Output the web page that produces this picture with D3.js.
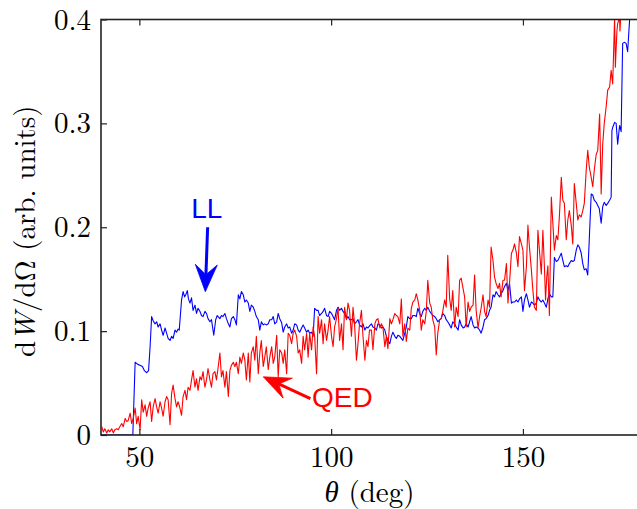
<!DOCTYPE html>
<html>
<head>
<meta charset="utf-8">
<script src="https://cdn.jsdelivr.net/npm/d3@7"></script>
<style>
  html, body { margin: 0; padding: 0; background: #fff; }
  svg { display: block; }
</style>
</head>
<body>
<svg id="chart" width="637" height="509"></svg>
<script>
// ---------------- data ----------------
const xTicks = [50, 100, 150];
const xTickLabels = ["50", "100", "150"];
const yTicks = [0, 0.1, 0.2, 0.3, 0.4];
const yTickLabels = ["0", "0.1", "0.2", "0.3", "0.4"];

const llTheta = [40,48.3,48.9,49.6,50.3,50.8,51.3,51.9,52.4,52.8,53.2,53.6,54.1,54.5,54.9,55.4,55.8,56.2,56.7,57.1,57.5,58.0,58.4,58.8,59.3,59.7,60.1,60.4,61.0,61.4,61.8,62.1,62.5,62.8,63.2,63.6,64.0,64.5,64.9,65.3,65.8,66.2,66.6,67.1,67.5,67.9,68.4,68.8,69.4,69.9,70.3,71.0,71.4,71.8,72.3,72.7,73.2,73.6,74.0,74.5,74.9,75.3,75.8,76.2,76.6,77.1,77.5,77.9,78.4,78.8,79.2,79.7,80.1,80.5,81.0,81.4,81.8,82.3,82.7,83.1,83.6,84.0,84.5,84.9,85.3,85.8,86.2,86.6,87.1,87.5,87.9,88.4,88.8,89.2,89.7,90.1,90.5,91.0,91.4,91.8,92.3,92.7,93.1,93.6,94.0,94.4,94.9,95.3,95.7,96.2,96.6,97.0,97.5,97.9,98.3,98.8,99.2,99.6,100.1,100.5,100.9,101.4,101.8,102.2,102.7,103.1,103.5,104.0,104.4,104.8,105.3,105.7,106.1,106.6,107.0,107.4,107.9,108.3,108.8,109.2,109.6,110.0,110.5,110.9,111.4,111.8,112.2,112.7,113.1,113.5,114.0,114.4,114.8,115.3,115.7,116.1,116.6,117.0,117.4,117.9,118.3,118.7,119.2,119.6,120.0,120.5,120.9,121.3,121.8,122.2,122.6,123.1,123.5,123.9,124.4,124.8,125.2,125.7,126.1,126.5,127.0,127.4,127.8,128.3,128.7,129.1,129.6,130.0,130.4,130.9,131.3,131.7,132.2,132.6,133.1,133.5,133.9,134.4,134.8,135.2,135.7,136.1,136.5,137.0,137.4,137.8,138.3,138.7,139.1,139.6,140.0,140.4,140.9,141.3,141.7,142.2,142.6,143.0,143.5,143.9,144.3,144.8,145.2,145.7,146.1,146.5,147.0,147.4,147.8,148.3,148.7,149.1,149.6,150.0,150.4,150.9,151.3,151.7,152.2,152.6,153.0,153.5,153.9,154.3,154.8,155.2,155.6,156.1,156.5,156.9,157.4,157.8,158.2,158.7,159.1,159.5,160.0,160.4,160.8,161.3,161.7,162.1,162.6,163.0,163.4,163.9,164.3,164.7,165.2,165.6,166.0,166.5,166.9,167.8,168.2,168.6,169.1,169.5,169.9,170.4,170.8,171.2,171.7,172.1,172.6,173.0,173.2,173.4,173.9,174.3,174.7,175.2,175.6,176.0,176.5,176.9,177.3,177.8,178.2,179.0];
const llValue = [0,0,0.070,0.068,0.067,0.066,0.062,0.060,0.062,0.085,0.114,0.110,0.107,0.109,0.104,0.107,0.101,0.096,0.103,0.098,0.093,0.091,0.095,0.093,0.101,0.099,0.102,0.101,0.130,0.138,0.133,0.135,0.139,0.131,0.127,0.132,0.120,0.125,0.117,0.122,0.119,0.115,0.114,0.119,0.117,0.112,0.109,0.111,0.096,0.111,0.115,0.112,0.115,0.114,0.117,0.112,0.107,0.104,0.112,0.114,0.111,0.106,0.135,0.131,0.138,0.135,0.128,0.130,0.127,0.119,0.125,0.123,0.119,0.114,0.111,0.101,0.109,0.106,0.107,0.106,0.107,0.111,0.111,0.114,0.107,0.109,0.117,0.112,0.108,0.099,0.104,0.107,0.103,0.104,0.098,0.101,0.107,0.106,0.101,0.099,0.103,0.106,0.103,0.099,0.101,0.098,0.099,0.095,0.122,0.120,0.120,0.115,0.117,0.119,0.122,0.115,0.114,0.119,0.117,0.114,0.111,0.120,0.123,0.120,0.122,0.119,0.117,0.112,0.114,0.111,0.111,0.112,0.107,0.109,0.111,0.106,0.104,0.107,0.101,0.104,0.103,0.105,0.107,0.104,0.103,0.101,0.107,0.106,0.103,0.104,0.101,0.095,0.091,0.088,0.095,0.099,0.095,0.093,0.096,0.095,0.093,0.091,0.098,0.104,0.114,0.112,0.112,0.115,0.115,0.114,0.122,0.117,0.114,0.119,0.122,0.120,0.123,0.119,0.117,0.115,0.114,0.112,0.109,0.111,0.112,0.117,0.115,0.111,0.109,0.106,0.103,0.109,0.107,0.104,0.101,0.111,0.106,0.103,0.104,0.107,0.104,0.109,0.114,0.106,0.103,0.104,0.103,0.101,0.098,0.104,0.111,0.112,0.115,0.120,0.123,0.135,0.133,0.138,0.135,0.133,0.136,0.139,0.143,0.146,0.139,0.146,0.127,0.128,0.128,0.130,0.128,0.131,0.133,0.119,0.130,0.136,0.130,0.123,0.128,0.127,0.125,0.127,0.133,0.130,0.128,0.130,0.127,0.123,0.131,0.136,0.133,0.133,0.171,0.167,0.168,0.171,0.175,0.168,0.162,0.163,0.162,0.165,0.168,0.167,0.168,0.178,0.183,0.181,0.175,0.165,0.159,0.160,0.154,0.232,0.231,0.226,0.224,0.221,0.218,0.204,0.220,0.224,0.221,0.223,0.226,0.229,0.293,0.296,0.301,0.300,0.280,0.298,0.292,0.377,0.378,0.377,0.369,0.399,0.420,0.450];

const qedTheta = [40.2,40.6,41.0,41.5,41.9,42.3,42.8,43.2,43.6,44.1,44.5,44.9,45.4,45.8,46.3,46.7,47.1,47.6,48.0,48.4,48.9,49.3,49.7,50.2,50.6,51.0,51.5,51.9,52.3,52.8,53.2,53.6,54.1,54.5,54.9,55.4,55.8,56.2,56.7,57.1,57.5,58.0,58.4,58.8,59.3,59.7,60.1,60.5,61.0,61.4,61.9,62.3,62.7,63.2,63.6,64.0,64.5,64.9,65.3,65.8,66.2,66.6,67.1,67.5,67.9,68.4,68.8,69.2,69.7,70.1,70.5,71.0,71.4,71.8,72.3,72.7,73.2,73.6,74.0,74.5,74.9,75.3,75.8,76.2,76.6,77.1,77.5,77.9,78.4,78.8,79.2,79.7,80.1,80.5,81.0,81.4,81.8,82.3,82.7,83.1,83.6,84.0,84.5,84.9,85.3,85.8,86.2,86.6,87.1,87.5,87.9,88.4,88.8,89.2,89.7,90.1,90.5,91.0,91.4,91.8,92.3,92.7,93.1,93.6,94.0,94.4,94.9,95.3,95.7,96.2,96.6,97.0,97.5,97.9,98.3,98.8,99.2,99.6,100.1,100.5,100.9,101.4,101.8,102.2,102.7,103.1,103.5,104.0,104.4,104.8,105.3,105.7,106.1,106.6,107.0,107.4,107.9,108.3,108.8,109.2,109.6,110.0,110.5,110.9,111.4,111.8,112.2,112.7,113.1,113.5,114.0,114.4,114.8,115.3,115.7,116.1,116.6,117.0,117.4,117.9,118.3,118.7,119.2,119.6,120.0,120.5,120.9,121.3,121.8,122.2,122.6,123.1,123.5,123.9,124.4,124.8,125.2,125.7,126.1,126.5,127.0,127.4,127.8,128.3,128.7,129.1,129.6,130.0,130.4,130.9,131.3,131.7,132.2,132.6,133.1,133.5,133.9,134.4,134.8,135.2,135.7,136.1,136.5,137.0,137.4,137.8,138.3,138.7,139.1,139.6,140.0,140.4,140.9,141.3,141.7,142.2,142.6,143.0,143.5,143.9,144.3,144.8,145.2,145.7,146.1,146.5,147.0,147.4,147.8,148.3,148.7,149.1,149.6,150.0,150.4,150.9,151.3,151.7,152.2,152.6,153.0,153.5,153.9,154.3,154.8,155.2,155.6,155.9,156.2,156.5,156.9,157.4,157.8,158.2,158.7,159.1,159.5,160.0,160.4,160.8,161.3,161.7,162.1,162.6,163.0,163.4,163.9,164.3,164.7,165.2,165.6,166.0,166.5,166.9,167.3,167.8,168.2,168.6,169.1,169.5,170.0,170.4,170.8,171.2,171.7,172.1,172.6,173.0,173.4,173.9,174.1,174.5,174.7,175.2,175.3,175.6,176.0,177.0];
const qedValue = [0.008,0.003,0.006,0.002,0.005,0.003,0.006,0.002,0.005,0.006,0.005,0.008,0.011,0.008,0.016,0.013,0.014,0.021,0.011,0.016,0.026,0.011,0.018,0.005,0.034,0.022,0.029,0.018,0.026,0.032,0.013,0.027,0.035,0.027,0.021,0.032,0.026,0.018,0.032,0.037,0.034,0.010,0.040,0.048,0.035,0.027,0.032,0.027,0.019,0.037,0.043,0.034,0.046,0.043,0.053,0.062,0.046,0.054,0.043,0.056,0.053,0.061,0.046,0.053,0.064,0.053,0.046,0.059,0.061,0.053,0.064,0.079,0.056,0.062,0.046,0.061,0.037,0.062,0.067,0.070,0.066,0.070,0.059,0.075,0.069,0.079,0.072,0.053,0.079,0.051,0.079,0.085,0.072,0.095,0.059,0.079,0.091,0.066,0.075,0.085,0.063,0.075,0.085,0.069,0.075,0.096,0.056,0.082,0.079,0.069,0.082,0.059,0.098,0.096,0.088,0.098,0.101,0.095,0.079,0.082,0.069,0.095,0.082,0.098,0.075,0.098,0.082,0.104,0.095,0.059,0.114,0.098,0.111,0.088,0.107,0.091,0.101,0.114,0.095,0.085,0.104,0.112,0.123,0.091,0.107,0.082,0.123,0.111,0.127,0.120,0.095,0.123,0.107,0.072,0.088,0.107,0.120,0.095,0.072,0.091,0.085,0.101,0.101,0.082,0.107,0.111,0.112,0.103,0.107,0.104,0.085,0.095,0.083,0.112,0.107,0.111,0.117,0.115,0.114,0.107,0.131,0.095,0.107,0.090,0.103,0.101,0.122,0.128,0.130,0.136,0.130,0.120,0.101,0.111,0.107,0.119,0.149,0.127,0.123,0.111,0.104,0.077,0.098,0.111,0.112,0.119,0.130,0.123,0.173,0.131,0.120,0.139,0.104,0.123,0.114,0.149,0.151,0.141,0.133,0.104,0.128,0.119,0.123,0.125,0.154,0.120,0.103,0.114,0.122,0.135,0.119,0.114,0.130,0.123,0.181,0.168,0.152,0.146,0.141,0.146,0.133,0.149,0.149,0.165,0.127,0.146,0.175,0.178,0.184,0.175,0.162,0.191,0.184,0.178,0.139,0.162,0.202,0.181,0.159,0.139,0.123,0.120,0.197,0.178,0.155,0.197,0.162,0.130,0.152,0.163,0.115,0.229,0.204,0.178,0.192,0.188,0.210,0.248,0.226,0.223,0.188,0.207,0.216,0.202,0.184,0.242,0.223,0.207,0.212,0.210,0.216,0.223,0.255,0.274,0.258,0.248,0.239,0.255,0.270,0.274,0.309,0.232,0.280,0.300,0.316,0.332,0.335,0.351,0.338,0.402,0.354,0.389,0.396,0.402,0.389,0.410,0.430,0.460];

const annLabels = ["LL", "QED"];
const annColors = ["#0000ff", "#ff0000"];
const annTextX = [67.6, 95.0];
const annTextY = [0.209, 0.027];
const annTailX = [67.8, 94.6];
const annTailY = [0.200, 0.035];
const annTipX = [67.2, 82.3];
const annTipY = [0.138, 0.056];

// ---------------- layout ----------------
const SERIF = '"Latin Modern Roman", "CMU Serif", "Liberation Serif", serif';
const SANS = '"Liberation Sans", Arial, sans-serif';
const svg = d3.select("#chart");
const pL = 101, pR = 638, pT = 19.5, pB = 435;
const x = d3.scaleLinear().domain([40, 180]).range([pL, pR]);
const y = d3.scaleLinear().domain([0, 0.4]).range([pB, pT]);

svg.append("defs").append("clipPath").attr("id", "clip")
  .append("rect").attr("x", pL).attr("y", pT)
  .attr("width", pR - pL).attr("height", pB - pT);

const line = d3.line().x(d => x(d[0])).y(d => y(d[1]));
const llData = llTheta.map((t, i) => [t, llValue[i]]);
const qedData = qedTheta.map((t, i) => [t, qedValue[i]]);

const plot = svg.append("g").attr("clip-path", "url(#clip)");
plot.append("path").datum(llData).attr("d", line)
  .attr("fill", "none").attr("stroke", "#0000ff").attr("stroke-width", 1.1)
  .attr("stroke-linejoin", "round");
plot.append("path").datum(qedData).attr("d", line)
  .attr("fill", "none").attr("stroke", "#ff0000").attr("stroke-width", 1.1)
  .attr("stroke-linejoin", "round");

// ---------------- axes ----------------
const gx = svg.append("g").attr("transform", `translate(0,${pB})`)
  .call(d3.axisBottom(x).tickValues(xTicks).tickSize(-6).tickSizeOuter(0)
    .tickFormat((d, i) => xTickLabels[i]));
gx.select(".domain").remove();
gx.selectAll("text").attr("y", 32).attr("dy", 0)
  .style("font-family", SERIF).style("font-size", "29px").attr("fill", "#000");

const gxt = svg.append("g").attr("transform", `translate(0,${pT})`)
  .call(d3.axisTop(x).tickValues(xTicks).tickSize(-6).tickSizeOuter(0).tickFormat(""));
gxt.select(".domain").remove();

const gy = svg.append("g").attr("transform", `translate(${pL},0)`)
  .call(d3.axisLeft(y).tickValues(yTicks).tickSize(-6).tickSizeOuter(0)
    .tickFormat((d, i) => yTickLabels[i]));
gy.select(".domain").remove();
gy.selectAll("text").attr("x", -10).attr("dy", "0.33em")
  .style("font-family", SERIF).style("font-size", "29px").attr("fill", "#000");

svg.selectAll(".tick line").attr("stroke", "#222").attr("stroke-width", 1.2);

// spines
svg.append("rect").attr("x", pL).attr("y", pT)
  .attr("width", pR - pL).attr("height", pB - pT)
  .attr("fill", "none").attr("stroke", "#222").attr("stroke-width", 1.6);

// axis labels
svg.append("text")
  .attr("x", (pL + pR) / 2).attr("y", 502)
  .attr("text-anchor", "middle")
  .style("font-family", SERIF).style("font-size", "29px")
  .html('<tspan font-style="italic">θ</tspan> (deg)');

svg.append("text")
  .attr("transform", `translate(35,${(pT + pB) / 2 + 4}) rotate(-90)`)
  .attr("text-anchor", "middle")
  .style("font-family", SERIF).style("font-size", "29px")
  .html('d<tspan font-style="italic">W</tspan>/dΩ (arb. units)');

// ---------------- annotations ----------------
annLabels.forEach((lab, i) => {
  const col = annColors[i];
  const T = [x(annTailX[i]), y(annTailY[i])];
  const P = [x(annTipX[i]), y(annTipY[i])];
  const dx = P[0] - T[0], dy = P[1] - T[1];
  const len = Math.hypot(dx, dy);
  const u = [dx / len, dy / len];
  const n = [-u[1], u[0]];
  const L = 27, W = 11, dn = 10;
  const base = [P[0] - u[0] * L, P[1] - u[1] * L];
  const notch = [P[0] - u[0] * (L - dn), P[1] - u[1] * (L - dn)];
  svg.append("line")
    .attr("x1", T[0]).attr("y1", T[1]).attr("x2", notch[0]).attr("y2", notch[1])
    .attr("stroke", col).attr("stroke-width", 3);
  const pts = [P, [base[0] + n[0] * W, base[1] + n[1] * W], notch,
               [base[0] - n[0] * W, base[1] - n[1] * W]];
  svg.append("path").attr("d", "M" + pts.map(p => p.join(",")).join("L") + "Z")
    .attr("fill", col).attr("stroke", col).attr("stroke-width", 0.8)
    .attr("stroke-linejoin", "miter");
  svg.append("text")
    .attr("x", x(annTextX[i])).attr("y", y(annTextY[i]))
    .attr("text-anchor", i === 0 ? "middle" : "start")
    .style("font-family", SANS).style("font-size", "28px").attr("fill", col)
    .text(lab);
});
</script>
</body>
</html>
